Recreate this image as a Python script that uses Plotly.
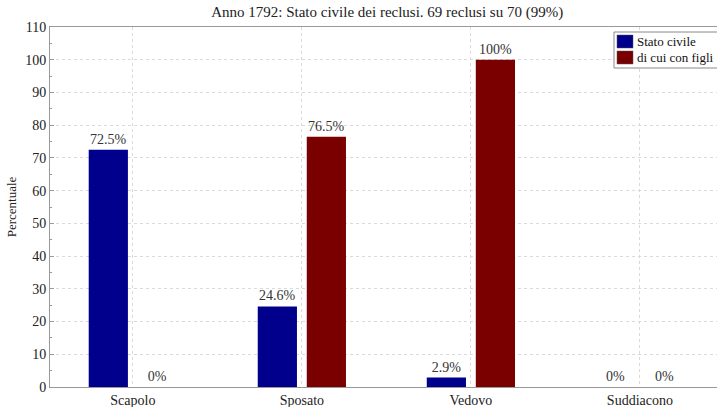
import plotly.graph_objects as go

categories = ["Scapolo", "Sposato", "Vedovo", "Suddiacono"]
series_names = ["Stato civile", "di cui con figli"]
stato_civile = [72.5, 24.6, 2.9, 0]
con_figli = [0, 76.5, 100, 0]
stato_labels = ["72.5%", "24.6%", "2.9%", "0%"]
figli_labels = ["0%", "76.5%", "100%", "0%"]
y_ticks = list(range(0, 111, 10))

FONT = "Liberation Serif, DejaVu Serif, serif"
BLUE = "#00008c"
RED = "#7a0000"

fig = go.Figure()
fig.add_trace(go.Bar(
    x=categories, y=stato_civile, name=series_names[0],
    marker=dict(color=BLUE, line=dict(width=0)),
    text=stato_labels, textposition="outside", cliponaxis=False,
    textfont=dict(family=FONT, size=14, color="#333333"),
))
fig.add_trace(go.Bar(
    x=categories, y=con_figli, name=series_names[1],
    marker=dict(color=RED, line=dict(width=0)),
    text=figli_labels, textposition="outside", cliponaxis=False,
    textfont=dict(family=FONT, size=14, color="#333333"),
))

# legend box (drawn manually to match the reference's compact layout)
def px_x(px):
    return (px - 50) / 667.0

def px_y(py):
    return (387 - py) / 360.0

fig.add_shape(type="rect", xref="paper", yref="paper",
              x0=px_x(614), x1=px_x(722), y0=px_y(68), y1=px_y(32),
              line=dict(color="#888888", width=1), fillcolor="white", layer="above")
for i, (nm, col) in enumerate(zip(series_names, [BLUE, RED])):
    top = 35 + i * 16
    fig.add_shape(type="rect", xref="paper", yref="paper",
                  x0=px_x(617), x1=px_x(633), y0=px_y(top + 13), y1=px_y(top),
                  line=dict(color="#555555", width=0.5), fillcolor=col, layer="above")
    fig.add_annotation(xref="paper", yref="paper", x=px_x(635), y=px_y(top + 6.5),
                       text=nm, showarrow=False, xanchor="left", yanchor="middle",
                       font=dict(family=FONT, size=13, color="#111111"))

fig.update_layout(
    width=717, height=407,
    margin=dict(l=50, r=0, t=27, b=20, autoexpand=False),
    paper_bgcolor="white", plot_bgcolor="white",
    barmode="group", bargap=0.42, bargroupgap=0.2,
    font=dict(family=FONT, size=14, color="#222222"),
    title=dict(text="Anno 1792: Stato civile dei reclusi. 69 reclusi su 70 (99%)",
               x=0.54, xanchor="center", y=0.97, yanchor="middle",
               font=dict(family=FONT, size=15, color="#222222")),
    showlegend=False,
    xaxis=dict(range=[-0.49, 3.456], showgrid=True, gridcolor="#dadada",
               griddash="dot", gridwidth=1,
               showline=True, linecolor="#999999", linewidth=1, mirror=True,
               ticks="", tickfont=dict(family=FONT, size=14, color="#222222"),
               automargin=False, zeroline=False),
    yaxis=dict(range=[0, 110], tickvals=y_ticks, showgrid=True,
               gridcolor="#dadada", griddash="dot", gridwidth=1,
               showline=True, linecolor="#999999", linewidth=1,
               ticks="inside", ticklen=4, tickcolor="#999999",
               minor=dict(dtick=5, ticks="inside", ticklen=2, tickcolor="#999999", showgrid=False),
               tickfont=dict(family=FONT, size=14, color="#222222"),
               title=dict(text="Percentuale", font=dict(family=FONT, size=13, color="#222222"), standoff=5),
               automargin=False, zeroline=False),
)

fig.write_html("out.html", config={"displayModeBar": False},
               post_script="document.body.style.margin='0';document.body.style.overflow='hidden';")
